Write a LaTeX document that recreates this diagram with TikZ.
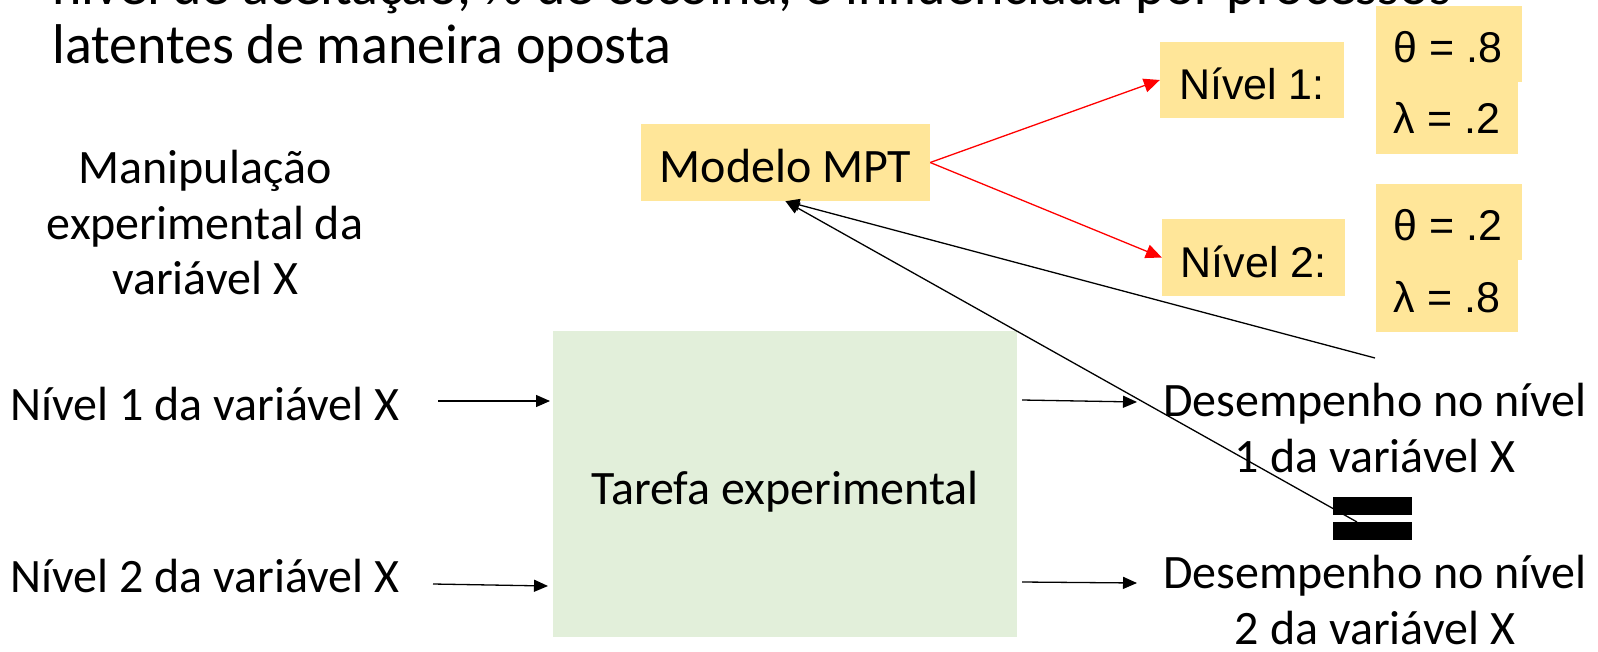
\documentclass[tikz,border=0pt]{standalone}
\usepackage{fontspec}
\setmainfont{Carlito}
\newfontfamily\arialfont{Liberation Sans}
\usetikzlibrary{arrows.meta}
\definecolor{boxyellow}{HTML}{FFE699}
\definecolor{boxgreen}{HTML}{E2EFDA}
\begin{document}
\begin{tikzpicture}[x=1pt,y=-1pt,
  titletext/.style={inner sep=0pt, anchor=base west, font=\fontsize{56}{60}\selectfont},
  lbl/.style={inner sep=0pt, anchor=base, font=\fontsize{48}{56}\selectfont},
  lblw/.style={lbl, anchor=base west},
  arial/.style={inner sep=0pt, anchor=base, font=\arialfont\fontsize{43}{50}\selectfont},
  ybox/.style={fill=boxyellow, draw=none, inner sep=0pt},
  gbox/.style={fill=boxgreen, draw=none, inner sep=0pt},
  bar/.style={fill=black, draw=none, inner sep=0pt, minimum width=79pt, minimum height=18pt},
  blk/.style={draw=black, line width=1.3pt, -{Triangle[length=14pt,width=12pt]}},
  redarr/.style={draw=red, line width=1.3pt, -{Triangle[length=16pt,width=14pt]}},
]
\useasboundingbox (0,0) rectangle (1598,651);
\clip (0,0) rectangle (1598,651);

% heading (first line runs off the top edge)
\node[titletext] (head1) at (52,4) {nível de aceitação, \% de escolha, é influenciada por processos};
\node[titletext] (head2) at (52,63) {latentes de maneira oposta};

% filled boxes
\node[ybox, minimum width=289pt, minimum height=77pt] (mpt) at (785.5,162.5) {};
\node[gbox, minimum width=464pt, minimum height=306pt] (task) at (785,484) {};
\node[ybox, minimum width=184pt, minimum height=76pt] (lev1) at (1252,80) {};
\node[ybox, minimum width=183pt, minimum height=77pt] (lev2) at (1253.5,257.5) {};
\node[ybox, minimum width=142pt, minimum height=73pt] (p1b) at (1447,117) {};
\node[ybox, minimum width=146pt, minimum height=76pt] (p1a) at (1449,44) {};
\node[ybox, minimum width=142pt, minimum height=74pt] (p2b) at (1447,295) {};
\node[ybox, minimum width=146pt, minimum height=76pt] (p2a) at (1449,222) {};

% equals sign between the two performances
\node[bar] (eqa) at (1372.5,506) {};
\node[bar] (eqb) at (1372.5,531) {};

% box texts
\node[lbl] (mpttext) at (785.5,182) {Modelo MPT};
\node[lbl] (tasktext) at (785,504) {Tarefa experimental};
\node[arial] (lev1text) at (1252,99) {Nível 1:};
\node[arial] (lev2text) at (1253.5,277) {Nível 2:};
\node[arial] (p1atext) at (1448,62) {θ = .8};
\node[arial] (p1btext) at (1447,133) {λ = .2};
\node[arial] (p2atext) at (1448,240) {θ = .2};
\node[arial] (p2btext) at (1447,312) {λ = .8};

% free labels
\node[lbl] (man1) at (205,183) {Manipulação};
\node[lbl] (man2) at (205,239) {experimental da};
\node[lbl] (man3) at (205,294) {variável X};
\node[lblw] (in1text) at (10,420) {Nível 1 da variável X};
\node[lblw] (in2text) at (10,592) {Nível 2 da variável X};
\node[lbl] (out1a) at (1375,416) {Desempenho no nível};
\node[lbl] (out1b) at (1375,472) {1 da variável X};
\node[lbl] (out2a) at (1375,588) {Desempenho no nível};
\node[lbl] (out2b) at (1375,644) {2 da variável X};

% arrow ends
\coordinate (a1s) at (438,401);
\coordinate (a1e) at (550,401);
\coordinate (a2s) at (433,584);
\coordinate (a2e) at (548,586);
\coordinate (b1s) at (1022,400);
\coordinate (b1e) at (1137,402);
\coordinate (b2s) at (1022,582);
\coordinate (b2e) at (1137,583);
\coordinate (fb1) at (1375,358);
\coordinate (fb2) at (1357,522);

% connectors
\draw[blk] (a1s) -- (a1e);
\draw[blk] (a2s) -- (a2e);
\draw[blk] (b1s) -- (b1e);
\draw[blk] (b2s) -- (b2e);
\draw[redarr] (mpt.east) -- (lev1.west);
\draw[redarr] (mpt.east) -- (lev2.west);
\draw[blk] (fb1) -- (mpt.south);
\draw[blk] (fb2) -- (mpt.south);
\end{tikzpicture}
\end{document}
